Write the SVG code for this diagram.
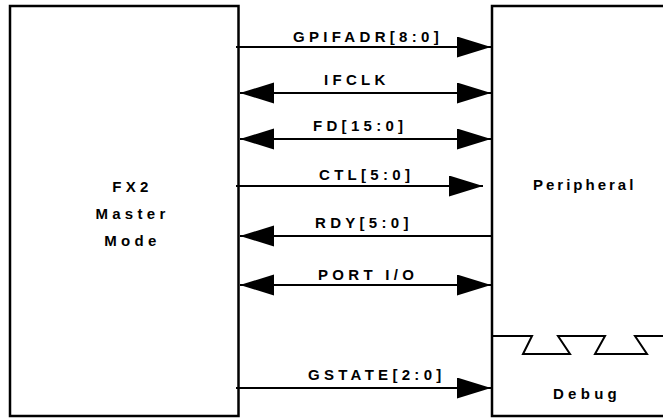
<svg xmlns="http://www.w3.org/2000/svg" width="663" height="418" viewBox="0 0 663 418">
<style>
.box{fill:#fff;stroke:#000;stroke-width:2.5}
.wire{stroke:#000;stroke-width:2;fill:none}
.lbl{font-family:"Liberation Sans",Arial,sans-serif;font-weight:bold;font-size:15px;letter-spacing:4.3px;fill:#000}
</style>
<defs>
<marker id="ah" markerUnits="userSpaceOnUse" markerWidth="35" markerHeight="22" refX="34" refY="10.5" orient="auto-start-reverse" viewBox="0 0 35 22">
<path d="M0,0 L34,10.5 L0,21 z" fill="#000"/>
</marker>
</defs>
<rect width="663" height="418" fill="#fff"/>
<g id="fx2">
<rect class="box" x="10" y="6" width="228.5" height="410"/>
<text class="lbl" x="132.5" y="192" text-anchor="middle">FX2</text>
<text class="lbl" x="132.5" y="219" text-anchor="middle">Master</text>
<text class="lbl" x="132.5" y="246" text-anchor="middle">Mode</text>
</g>
<g id="peripheral">
<rect class="box" x="492" y="6" width="200" height="410"/>
<text class="lbl" x="533" y="190" style="letter-spacing:3px">Peripheral</text>
</g>
<g id="debug">
<polyline class="wire" points="492,336 532,336 523,354 570,354 558,336 605,336 595,354 647,354 635,336 665,336"/>
<text class="lbl" x="587" y="399" text-anchor="middle">Debug</text>
</g>
<g id="connectors">
<line class="wire" x1="236" y1="47" x2="491" y2="47" marker-end="url(#ah)"/>
<line class="wire" x1="240" y1="93" x2="491" y2="93" marker-start="url(#ah)" marker-end="url(#ah)"/>
<line class="wire" x1="240" y1="139" x2="491" y2="139" marker-start="url(#ah)" marker-end="url(#ah)"/>
<line class="wire" x1="236" y1="186" x2="483" y2="186" marker-end="url(#ah)"/>
<line class="wire" x1="492" y1="236" x2="240" y2="236" marker-end="url(#ah)"/>
<line class="wire" x1="240" y1="285" x2="491" y2="285" marker-start="url(#ah)" marker-end="url(#ah)"/>
<line class="wire" x1="236" y1="388" x2="491" y2="388" marker-end="url(#ah)"/>
<text class="lbl" x="293" y="42">GPIFADR[8:0]</text>
<text class="lbl" x="324" y="85">IFCLK</text>
<text class="lbl" x="313" y="131">FD[15:0]</text>
<text class="lbl" x="319" y="180">CTL[5:0]</text>
<text class="lbl" x="315" y="228">RDY[5:0]</text>
<text class="lbl" x="318" y="280">PORT I/O</text>
<text class="lbl" x="308" y="380">GSTATE[2:0]</text>
</g>
</svg>
